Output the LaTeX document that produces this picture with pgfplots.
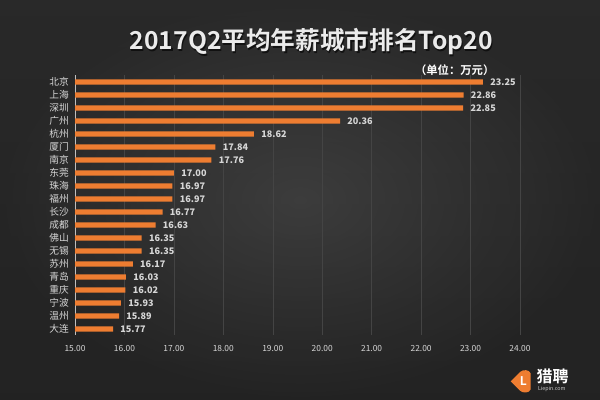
\documentclass[border=0pt]{standalone}
\usepackage{pgfplots}
\pgfplotsset{compat=1.18}
\usepackage{pgfplotstable}
\usepackage{fontspec}
\setmainfont{Noto Sans CJK SC}
\newfontfamily\cjkbold{Noto Sans CJK SC Bold}
\definecolor{barorange}{HTML}{EE7D31}
\definecolor{lbl}{HTML}{D6D6D6}
\definecolor{gridc}{HTML}{444444}

\pgfplotstableread{
idx city value
0  北京 23.25
1  上海 22.86
2  深圳 22.85
3  广州 20.36
4  杭州 18.62
5  厦门 17.84
6  南京 17.76
7  东莞 17.00
8  珠海 16.97
9  福州 16.97
10 长沙 16.77
11 成都 16.63
12 佛山 16.35
13 无锡 16.35
14 苏州 16.17
15 青岛 16.03
16 重庆 16.02
17 宁波 15.93
18 温州 15.89
19 大连 15.77
}\salary

\begin{document}
\begin{tikzpicture}
  % background, 600x400 px = 450x300 pt
  \shade[inner color=black!70!white, outer color=black!88!white, use as bounding box]
    (0,0) rectangle (450pt,300pt);
  \shade[top color=black!80!white, bottom color=black!85!white, opacity=0.5]
    (0,0) rectangle (450pt,300pt);

  % title with soft shadow
  \node[text=black, opacity=0.6, font=\cjkbold\fontsize{18.5}{21}\selectfont] at (234.3pt,267.7pt) {2017Q2平均年薪城市排名Top20};
  \node[text=white!92!black, font=\cjkbold\fontsize{18.5}{21}\selectfont] at (233.5pt,268.5pt) {2017Q2平均年薪城市排名Top20};
  \node[text=white, font=\cjkbold\fontsize{8.5}{10}\selectfont] at (341pt,247.5pt) {（单位：万元）};

  \begin{axis}[
    at={(56.25pt,48.4pt)}, anchor=south west,
    scale only axis,
    width=333.75pt, height=195pt,
    xbar, bar width=4pt, bar shift=0pt,
    xmin=15, xmax=24,
    xtick={15,16,...,24},
    ymin=-0.5, ymax=19.5, y dir=reverse,
    ytick=data,
    yticklabels from table={\salary}{city},
    axis lines*=left,
    x axis line style={draw=none},
    y axis line style={draw=white!75!black, line width=0.6pt},
    major tick length=0pt,
    xmajorgrids, grid style={gridc, line width=0.4pt},
    ticklabel style={text=lbl},
    yticklabel style={font=\fontsize{7.3}{8}\selectfont, xshift=-1pt},
    xticklabel style={font=\fontsize{6.3}{7}\selectfont, yshift=-4pt},
    /pgf/number format/fixed,
    /pgf/number format/fixed zerofill,
    /pgf/number format/precision=2,
    /pgf/number format/assume math mode=true,
    nodes near coords,
    nodes near coords style={text=lbl, font=\fontsize{6.8}{8}\bfseries\selectfont, xshift=2pt},
  ]
    \addplot[fill=barorange, draw=none] table[x=value, y=idx] {\salary};
  \end{axis}

  % logo
  \fill[barorange] (383pt,14pt) -- (390pt,21pt) .. controls (392pt,23pt) and (397pt,23pt) .. (398pt,20pt)
    -- (398pt,8pt) .. controls (397pt,5pt) and (392pt,5pt) .. (390pt,7pt) -- cycle;
  \node[text=white, font=\cjkbold\fontsize{9}{10}\selectfont] at (392.5pt,14pt) {L};
  \node[text=white, font=\cjkbold\fontsize{12}{13}\selectfont, anchor=west] at (399pt,17.5pt) {猎聘};
  \node[text=white!80!black, font=\fontsize{4}{4.5}\selectfont, anchor=west] at (400pt,8.5pt) {Liepin.com};
\end{tikzpicture}
\end{document}
